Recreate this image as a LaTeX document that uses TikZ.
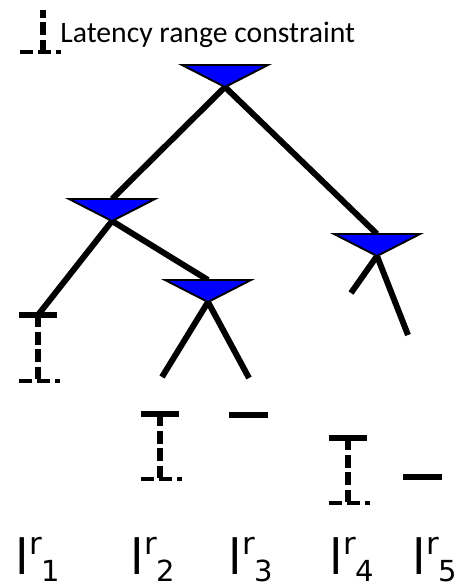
\documentclass[tikz,border=0pt]{standalone}
\usepackage{fontspec}
\newfontfamily\keyfont{Carlito}
\newfontfamily\leaffont{DejaVu Sans}
\usetikzlibrary{positioning,backgrounds}
\definecolor{gateblue}{RGB}{0,0,255}

% leaf latency l^r_i with shifted sup/sub
\newcommand{\lat}[1]{l\raisebox{0.41em}{\fontsize{17.5}{18}\selectfont r}\raisebox{-0.15em}{\fontsize{16.5}{18}\selectfont #1}}

\begin{document}
\begin{tikzpicture}[
			x=0.02cm, y=-0.02cm,
			edge/.style={line width=3.4pt},
			bar/.style={line width=3pt},
			latrange/.style={line width=3pt, dash pattern=on 7pt off 2.8pt},
			latfoot/.style={line width=2.6pt, dash pattern=on 7.4pt off 2.8pt},
			lbl/.style={anchor=base west, inner sep=0pt,
				font=\leaffont\fontsize{27.6}{30}\selectfont},
			gate/.pic={
				\filldraw[fill=gateblue, draw=black, line width=1.1pt]
					(-43,0) -- (43,0) -- (0,22) -- cycle;
				\coordinate (-top) at (0,0);
				\coordinate (-apex) at (0,22);
			},
			span/.pic={
				\draw[latrange] (0,0) -- (0,#1);
				\draw[bar] (-19,0) -- (19,0);
				\draw[latfoot] (-19,#1) -- (22,#1);
				\coordinate (-top) at (0,0);
			}
			]
			\useasboundingbox (0,0) rectangle (461,587);
			
			% legend
			\coordinate (key) at (43,52);
			\draw[latrange] (key) -- ++(0,-42);
			\draw[latfoot] (20,52) -- (61,52);
			\node [anchor=base west, inner sep=0pt, font=\keyfont\fontsize{16.9}{18}\selectfont]
				(keytext) at (60,43) {Latency range constraint};
			
			% the gates
			\pic (root) at (225,65) {gate};
			\pic (left) at (112,199) {gate};
			\pic (mid) at (208,280) {gate};
			\pic (right) at (377,234) {gate};
			
			% leaves
			\pic (leaf1) at (38,315) {span=66};
			\pic (leaf2) at (160,414) {span=65};
			\pic (leaf4) at (348,438) {span=65};
			\coordinate (leaf3) at (248.5,415);
			\coordinate (leaf5) at (422.5,477);
			\draw[bar] ([xshift=-19.5*0.02cm]leaf3) -- ([xshift=19.5*0.02cm]leaf3);
			\draw[bar] ([xshift=-19.5*0.02cm]leaf5) -- ([xshift=19.5*0.02cm]leaf5);
			
			% branch ends
			\coordinate (midL) at (162,377);
			\coordinate (midR) at (249,378);
			\coordinate (rightL) at (351,293);
			\coordinate (rightR) at (408,335);
			
			\begin{scope}[on background layer]
				\draw[edge] (root-apex) -- (left-top);
				\draw[edge] (root-apex) -- (right-top);
				\draw[edge] (left-apex) -- (leaf1-top);
				\draw[edge] (left-apex) -- (mid-top);
				\draw[edge] (mid-apex) -- (midL);
				\draw[edge] (mid-apex) -- (midR);
				\draw[edge] (right-apex) -- (rightL);
				\draw[edge] (right-apex) -- (rightR);
			\end{scope}
			
			% labels
			\node [lbl] (l1) at (15.5,574) {\lat{1}};
			\node [lbl] (l2) at (130.5,574) {\lat{2}};
			\node [lbl] (l3) at (228.5,574) {\lat{3}};
			\node [lbl] (l4) at (329.5,574) {\lat{4}};
			\node [lbl] (l5) at (412.5,574) {\lat{5}};
			
\end{tikzpicture}
\end{document}
